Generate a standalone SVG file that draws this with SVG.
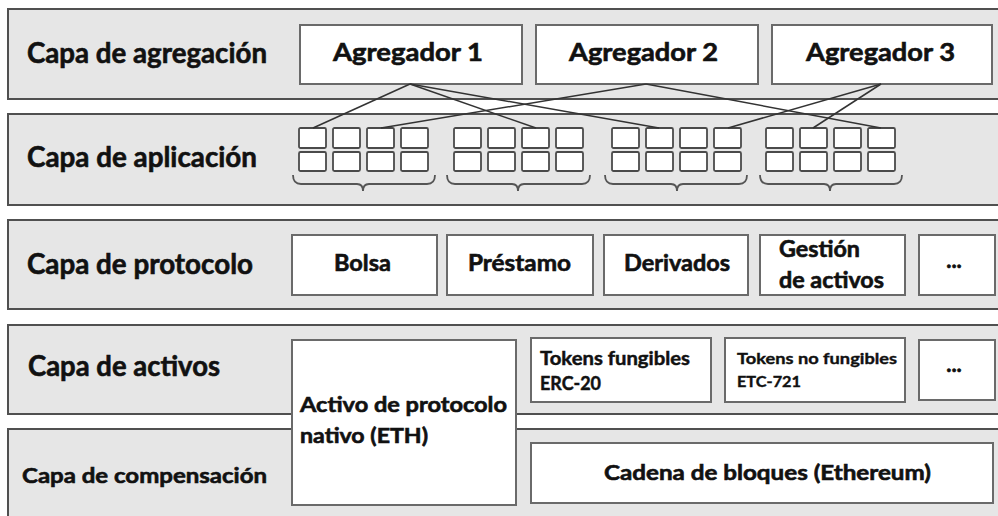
<svg xmlns="http://www.w3.org/2000/svg" width="998" height="516" viewBox="0 0 998 516">
<style>
.layer{fill:#e6e6e6;stroke:#505050;stroke-width:2}
.box{fill:#ffffff;stroke:#6a6a6a;stroke-width:2}
.cell{fill:#ffffff;stroke:#4a4a4a;stroke-width:1.8}
.brace{fill:none;stroke:#555555;stroke-width:1.8}
.conn{stroke:#333333;stroke-width:1.5;fill:none}
text{font-family:Lato,"Open Sans","DejaVu Sans",sans-serif;font-weight:bold;fill:#111111;stroke:#111111;stroke-width:0.6}
.t28{font-size:28px}
.t25{font-size:25px}
.t22{font-size:22px}
.t21{font-size:21px}
.t18{font-size:18px;stroke-width:0.45}
.t16{font-size:16px;stroke-width:0.4}
.mid{text-anchor:middle}
</style>
<rect width="998" height="516" fill="#ffffff"/>

<g id="layer-agregacion">
<rect class="layer" x="8" y="9" width="1000" height="90"/>
<text class="t28" x="27" y="63" textLength="240" lengthAdjust="spacingAndGlyphs">Capa de agregación</text>
</g>
<g id="layer-aplicacion">
<rect class="layer" x="8" y="114" width="1000" height="91"/>
<text class="t28" x="27" y="167" textLength="230" lengthAdjust="spacingAndGlyphs">Capa de aplicación</text>
</g>
<g id="layer-protocolo">
<rect class="layer" x="8" y="220" width="1000" height="89"/>
<text class="t28" x="27" y="274" textLength="226" lengthAdjust="spacingAndGlyphs">Capa de protocolo</text>
</g>
<g id="layer-activos">
<rect class="layer" x="8" y="325" width="1000" height="89"/>
<text class="t28" x="28" y="376" textLength="192" lengthAdjust="spacingAndGlyphs">Capa de activos</text>
</g>
<g id="layer-compensacion">
<rect class="layer" x="8" y="429" width="1000" height="100"/>
<text class="t21" x="22" y="483" textLength="245" lengthAdjust="spacingAndGlyphs">Capa de compensación</text>
</g>

<g id="agregador-1">
<rect class="box" x="300" y="25" width="222" height="59"/>
<text class="t25" x="333" y="61" textLength="150" lengthAdjust="spacingAndGlyphs">Agregador 1</text>
</g>
<g id="agregador-2">
<rect class="box" x="536" y="25" width="222" height="59"/>
<text class="t25" x="569" y="61" textLength="149" lengthAdjust="spacingAndGlyphs">Agregador 2</text>
</g>
<g id="agregador-3">
<rect class="box" x="772" y="25" width="220" height="59"/>
<text class="t25" x="806" y="61" textLength="149" lengthAdjust="spacingAndGlyphs">Agregador 3</text>
</g>

<defs>
<g id="grid">
<rect class="cell" x="0" y="0" width="27" height="20" rx="1.5"/>
<rect class="cell" x="34" y="0" width="27" height="20" rx="1.5"/>
<rect class="cell" x="68" y="0" width="27" height="20" rx="1.5"/>
<rect class="cell" x="102" y="0" width="27" height="20" rx="1.5"/>
<rect class="cell" x="0" y="24" width="27" height="19" rx="1.5"/>
<rect class="cell" x="34" y="24" width="27" height="19" rx="1.5"/>
<rect class="cell" x="68" y="24" width="27" height="19" rx="1.5"/>
<rect class="cell" x="102" y="24" width="27" height="19" rx="1.5"/>
</g>
</defs>

<g id="app-group-1">
<use href="#grid" x="299" y="128"/>
<path class="brace" d="M293,175 Q293,184 301,184 L357,184 Q363,184 363,191 Q363,184 369,184 L427,184 Q435,184 435,175"/>
</g>
<g id="app-group-2">
<use href="#grid" x="454" y="128"/>
<path class="brace" d="M447,175 Q447,184 455,184 L512,184 Q518,184 518,191 Q518,184 524,184 L582,184 Q590,184 590,175"/>
</g>
<g id="app-group-3">
<use href="#grid" x="612" y="128"/>
<path class="brace" d="M605,175 Q605,184 613,184 L671,184 Q677,184 677,191 Q677,184 683,184 L739,184 Q747,184 747,175"/>
</g>
<g id="app-group-4">
<use href="#grid" x="766" y="128"/>
<path class="brace" d="M760,175 Q760,184 768,184 L824,184 Q830,184 830,191 Q830,184 836,184 L894,184 Q902,184 902,175"/>
</g>

<g id="connectors">
<line class="conn" x1="410" y1="84" x2="313" y2="128"/>
<line class="conn" x1="410" y1="84" x2="536" y2="128"/>
<line class="conn" x1="410" y1="84" x2="659" y2="128"/>
<line class="conn" x1="646" y1="84" x2="381" y2="128"/>
<line class="conn" x1="646" y1="84" x2="881" y2="128"/>
<line class="conn" x1="881" y1="84" x2="728" y2="128"/>
<line class="conn" x1="881" y1="84" x2="813" y2="128"/>
</g>

<g id="bolsa">
<rect class="box" x="292" y="235" width="145" height="60"/>
<text class="t22" x="334" y="271" textLength="57" lengthAdjust="spacingAndGlyphs">Bolsa</text>
</g>
<g id="prestamo">
<rect class="box" x="447" y="235" width="146" height="60"/>
<text class="t22" x="468" y="271" textLength="103" lengthAdjust="spacingAndGlyphs">Préstamo</text>
</g>
<g id="derivados">
<rect class="box" x="604" y="235" width="144" height="60"/>
<text class="t22" x="624" y="271" textLength="106" lengthAdjust="spacingAndGlyphs">Derivados</text>
</g>
<g id="gestion">
<rect class="box" x="760" y="235" width="145" height="60"/>
<text class="t22" x="779" y="257" textLength="81" lengthAdjust="spacingAndGlyphs">Gestión</text>
<text class="t22" x="779" y="288" textLength="105" lengthAdjust="spacingAndGlyphs">de activos</text>
</g>
<g id="protocolo-mas">
<rect class="box" x="919" y="235" width="76" height="60"/>
<text class="t22 mid" x="954" y="268">...</text>
</g>

<g id="activo-nativo">
<rect class="box" x="292" y="340" width="224" height="165"/>
<text class="t21" x="300" y="412" textLength="207" lengthAdjust="spacingAndGlyphs">Activo de protocolo</text>
<text class="t21" x="300" y="443" textLength="128" lengthAdjust="spacingAndGlyphs">nativo (ETH)</text>
</g>
<g id="tokens-fungibles">
<rect class="box" x="531" y="338" width="180" height="64"/>
<text class="t18" x="540" y="365" textLength="150" lengthAdjust="spacingAndGlyphs">Tokens fungibles</text>
<text class="t18" x="540" y="390" textLength="61" lengthAdjust="spacingAndGlyphs">ERC-20</text>
</g>
<g id="tokens-no-fungibles">
<rect class="box" x="725" y="338" width="180" height="64"/>
<text class="t16" x="737" y="364" textLength="160" lengthAdjust="spacingAndGlyphs">Tokens no fungibles</text>
<text class="t16" x="737" y="387" textLength="64" lengthAdjust="spacingAndGlyphs">ETC-721</text>
</g>
<g id="activos-mas">
<rect class="box" x="919" y="340" width="76" height="60"/>
<text class="t22 mid" x="954" y="372">...</text>
</g>

<g id="cadena">
<rect class="box" x="531" y="443" width="462" height="60"/>
<text class="t21" x="604" y="480" textLength="327" lengthAdjust="spacingAndGlyphs">Cadena de bloques (Ethereum)</text>
</g>
</svg>
